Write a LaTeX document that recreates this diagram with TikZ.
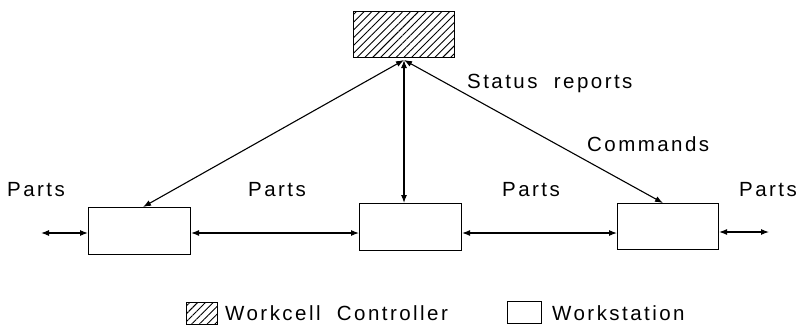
\documentclass[tikz,border=0pt]{standalone}
\usepackage{fontspec}
\setmainfont{Liberation Sans}[LetterSpace=12]
\usetikzlibrary{arrows.meta,patterns.meta}
\begin{document}
\begin{tikzpicture}[x=1pt,y=-1pt,
  box/.style={draw,line width=1.1pt,inner sep=0pt,anchor=north west},
  hatch/.style={pattern={Lines[angle=45,distance=5.5pt,line width=0.9pt]}},
  lbl/.style={font=\fontsize{20.5}{24}\selectfont,inner sep=0pt},
  conn/.style={line width=1.1pt,{Latex[length=8pt,width=6pt]}-{Latex[length=8pt,width=6pt]}}]
\useasboundingbox (0,0) rectangle (799,329);
% controller
\node[box,hatch,minimum width=101pt,minimum height=46pt] (ctl) at (353,11) {};
\coordinate (c) at (404,60);
% workstations
\node[box,minimum width=102pt,minimum height=47pt] (w1) at (88,207) {};
\node[box,minimum width=102pt,minimum height=47pt] (w2) at (359,203) {};
\node[box,minimum width=101pt,minimum height=46pt] (w3) at (617,203) {};
\coordinate (w1t) at (143,207);
\coordinate (w2t) at (404,203);
\coordinate (w3t) at (663,203);
\coordinate (lf) at (41,233);
\coordinate (rf) at (769,232);
% connectors
\draw[conn] (c) -- (w1t);
\draw[conn] (c) -- (w2t);
\draw[conn] (c) -- (w3t);
\draw[conn] (lf) -- (lf -| w1.west);
\draw[conn] (w1.east |- 0,233) -- (w2.west |- 0,233);
\draw[conn] (w2.east |- 0,233) -- (w3.west |- 0,233);
\draw[conn] (w3.east |- rf) -- (rf);
% labels
\node[lbl] (p1) at (36,190) {Parts};
\node[lbl] (p2) at (277,190) {Parts};
\node[lbl] (p3) at (531,190) {Parts};
\node[lbl] (p4) at (768,190) {Parts};
\node[lbl,anchor=west] (sr) at (467,83) {Status\ \ reports};
\node[lbl,anchor=west] (cm) at (587,144) {Commands};
% legend
\node[box,hatch,minimum width=31pt,minimum height=22pt] (lc) at (186,302) {};
\node[lbl,anchor=west] (lct) at (225,313) {Workcell\ \ Controller};
\node[box,minimum width=34pt,minimum height=22pt] (lw) at (507,301) {};
\node[lbl,anchor=west] (lwt) at (552,313) {Workstation};
\end{tikzpicture}
\end{document}
